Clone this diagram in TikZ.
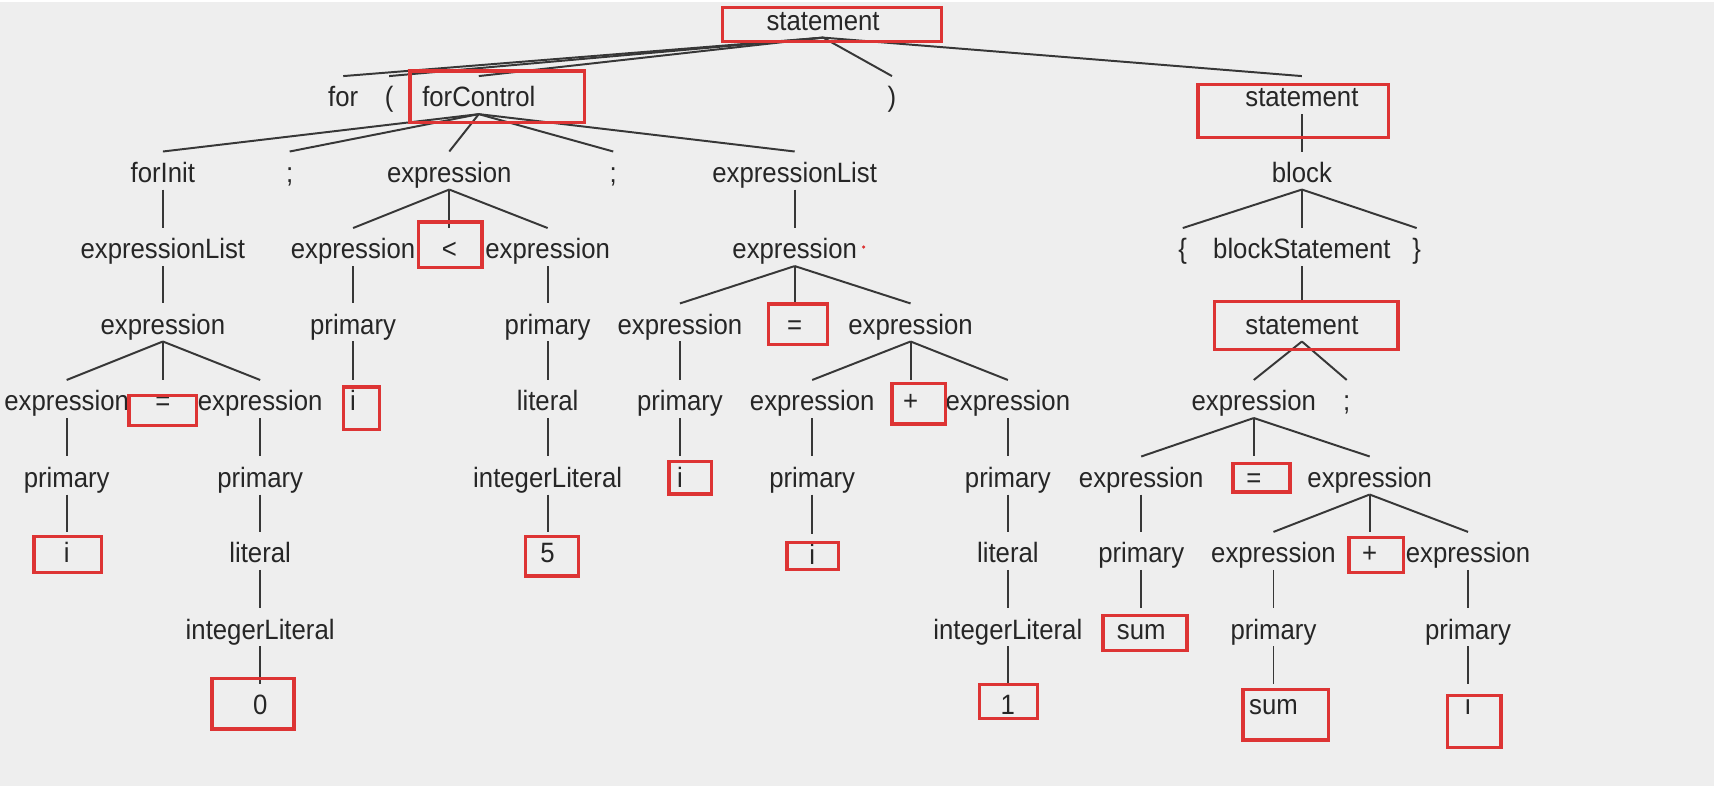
\documentclass[tikz,border=0pt]{standalone}
\usepackage{fontspec}
\setmainfont{Liberation Sans}[FakeStretch=0.92]
\definecolor{treebg}{RGB}{238,238,238}
\definecolor{hlred}{RGB}{221,52,52}
\definecolor{edgecol}{RGB}{55,55,55}

\begin{document}
\begin{tikzpicture}[x=0.5pt, y=-0.5pt,
    every node/.style={anchor=base, yshift=-3.3pt, inner sep=0pt, text height=13.8pt, text depth=3.2pt, text=black!85, font=\fontsize{12.8}{15}\selectfont},
    edge/.style={draw=edgecol, line width=0.9pt},
    hlbox/.style={draw=hlred, line width=1.5pt}]
    \fill[treebg] (0,0) rectangle (1568,717);
    % statement -> for ( forControl ) statement
    \node (st0) at (753,19) {statement};
    \node (for) at (314,89) {for};
    \node (lp) at (356,89) {(};
    \node (fc) at (438,89) {forControl};
    \node (rp) at (816,89) {)};
    \node (st1) at (1191,89) {statement};
    % forControl
    \node (fi) at (149,158) {forInit};
    \node (sc1) at (265,158) {;};
    \node (ex1) at (411,158) {expression};
    \node (sc2) at (561,158) {;};
    \node (el1) at (727,158) {expressionList};
    \node (blk) at (1191,158) {block};
    \node (el2) at (149,228) {expressionList};
    \node (ex2) at (323,228) {expression};
    \node (lt) at (411,228) {<};
    \node (ex3) at (501,228) {expression};
    \node (ex4) at (727,228) {expression};
    \node (lb) at (1082,228) {\{};
    \node (bs) at (1191,228) {blockStatement};
    \node (rb) at (1296,228) {\}};
    \node (ex5) at (149,297) {expression};
    \node (pr1) at (323,297) {primary};
    \node (pr2) at (501,297) {primary};
    \node (ex6) at (622,297) {expression};
    \node (eq2) at (727,297) {=};
    \node (ex7) at (833,297) {expression};
    \node (st2) at (1191,297) {statement};
    \node (ex8) at (61,367) {expression};
    \node (eq1) at (149,367) {=};
    \node (ex9) at (238,367) {expression};
    \node (i1) at (323,367) {i};
    \node (lit1) at (501,367) {literal};
    \node (pr3) at (622,367) {primary};
    \node (ex10) at (743,367) {expression};
    \node (pl1) at (833,367) {+};
    \node (ex11) at (922,367) {expression};
    \node (ex12) at (1147,367) {expression};
    \node (sc3) at (1232,367) {;};
    \node (pr4) at (61,437) {primary};
    \node (pr5) at (238,437) {primary};
    \node (il1) at (501,437) {integerLiteral};
    \node (i2) at (622,437) {i};
    \node (pr6) at (743,437) {primary};
    \node (pr7) at (922,437) {primary};
    \node (ex13) at (1044,437) {expression};
    \node (eq3) at (1147,437) {=};
    \node (ex14) at (1253,437) {expression};
    \node (i3) at (61,506) {i};
    \node (lit2) at (238,506) {literal};
    \node (n5) at (501,506) {5};
    \node (i4) at (743,508) {i};
    \node (lit3) at (922,506) {literal};
    \node (pr8) at (1044,506) {primary};
    \node (ex15) at (1165,506) {expression};
    \node (pl2) at (1253,506) {+};
    \node (ex16) at (1343,506) {expression};
    \node (il2) at (238,576) {integerLiteral};
    \node (il3) at (922,576) {integerLiteral};
    \node (sum1) at (1044,576) {sum};
    \node (pr9) at (1165,576) {primary};
    \node (pr10) at (1343,576) {primary};
    \node (n0) at (238,645) {0};
    \node (n1) at (922,645) {1};
    \node (sum2) at (1165,645) {sum};
    \node (i5) at (1343,645) {ı};
    % parent -> child
    \foreach \p/\c in {st0/for, st0/lp, st0/fc, st0/rp, st0/st1,
        fc/fi, fc/sc1, fc/ex1, fc/sc2, fc/el1,
        fi/el2, el2/ex5, ex5/ex8, ex5/eq1, ex5/ex9, ex8/pr4, pr4/i3,
        ex9/pr5, pr5/lit2, lit2/il2, il2/n0,
        ex1/ex2, ex1/lt, ex1/ex3, ex2/pr1, pr1/i1, ex3/pr2, pr2/lit1, lit1/il1, il1/n5,
        el1/ex4, ex4/ex6, ex4/eq2, ex4/ex7, ex6/pr3, pr3/i2,
        ex7/ex10, ex7/pl1, ex7/ex11, ex10/pr6, pr6/i4, ex11/pr7, pr7/lit3, lit3/il3, il3/n1,
        st1/blk, blk/lb, blk/bs, blk/rb, bs/st2, st2/ex12, st2/sc3,
        ex12/ex13, ex12/eq3, ex12/ex14, ex13/pr8, pr8/sum1,
        ex14/ex15, ex14/pl2, ex14/ex16, ex15/pr9, pr9/sum2, ex16/pr10, pr10/i5}
        \draw[edge] (\p.south) -- (\c.north);
    % red highlight boxes
    \foreach \xa/\ya/\xb/\yb in {661/5/861/36, 375/63/535/110, 1096/75/1270/124,
        383/201/441/243, 118/360/180/387, 314/352/347/391, 31/489/93/522,
        481/489/529/525, 194/619/269/665, 703/276/757/313, 612/420/651/450,
        816/349/865/386, 720/494/767/519, 896/624/949/655, 1111/274/1279/318,
        1128/422/1180/448, 1234/490/1284/522, 1009/561/1086/593,
        1137/629/1215/675, 1324/634/1373/682}
        \draw[hlbox] (\xa,\ya) rectangle (\xb,\yb);
    \fill[hlred] (790,224) circle (0.8pt);
\end{tikzpicture}
\end{document}
